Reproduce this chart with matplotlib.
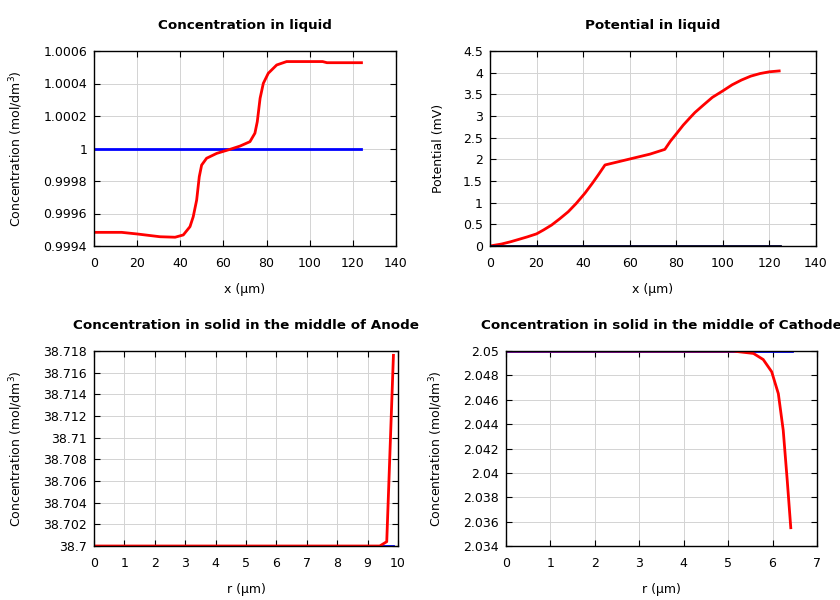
import numpy as np
import matplotlib
matplotlib.use('Agg')
import matplotlib.pyplot as plt
from matplotlib.ticker import FuncFormatter

# 液相浓度
x_liq = [0, 12.8, 20, 30.6, 37.6, 41.4, 44.5, 46.0, 47.6, 48.8, 49.9, 52.2, 56.9, 63.1, 67.7,
         72.3, 74.6, 75.7, 77.0, 78.5, 80.8, 84.7, 89.3, 106, 108, 124]
c_liq = [0.999484, 0.999484, 0.999474, 0.999457, 0.999454, 0.999468, 0.999519, 0.999580,
         0.999683, 0.999826, 0.999898, 0.999940, 0.999970, 0.999995, 1.000015, 1.000042,
         1.000094, 1.000165, 1.000309, 1.000401, 1.000463, 1.000514, 1.000535, 1.000535,
         1.000528, 1.000528]
x_liq0 = [0, 124]
c_liq0 = [1.0, 1.0]

# 液相电势
x_pot = [0, 5, 9, 12.2, 16, 20, 23, 26.5, 30, 33.6, 37, 40.8, 44, 46.5, 49.4, 68.7, 75.1,
         77.5, 80.2, 83, 85.9, 88, 91.6, 95.5, 100, 104, 108, 112, 116, 120, 124.2]
phi = [0, 0.046, 0.10, 0.15, 0.21, 0.28, 0.37, 0.485, 0.63, 0.79, 0.98, 1.22, 1.45, 1.64, 1.87,
       2.12, 2.23, 2.42, 2.60, 2.79, 2.96, 3.08, 3.25, 3.43, 3.58, 3.72, 3.83, 3.92, 3.98, 4.02,
       4.04]
x_pot0 = [0, 124.5]
phi0 = [0, 0]

# 负极固相浓度
r_an = [0, 9.4, 9.63, 9.85]
c_an = [38.7, 38.7, 38.7004, 38.7176]
r_an0 = [0, 9.85]
c_an0 = [38.7, 38.7]

# 正极固相浓度
r_ca = [0, 5.12, 5.57, 5.79, 5.98, 6.13, 6.24, 6.33, 6.41]
c_ca = [2.05, 2.04999, 2.0498, 2.0493, 2.0483, 2.0465, 2.0435, 2.0394, 2.0355]
r_ca0 = [0, 6.43]
c_ca0 = [2.05, 2.05]

plt.rcParams['font.family'] = ['DejaVu Sans']
plt.rcParams['font.size'] = 9

fig = plt.figure(figsize=(8.4, 6.0), dpi=100)
ax1 = fig.add_axes([0.1119, 0.59, 0.3595, 0.325])
ax2 = fig.add_axes([0.5833, 0.59, 0.3881, 0.325])
ax3 = fig.add_axes([0.1119, 0.09, 0.3619, 0.325])
ax4 = fig.add_axes([0.6024, 0.09, 0.3702, 0.325])

fmt = FuncFormatter(lambda v, p: '%g' % round(v, 6))


def style(ax, title, xlabel, ylabel):
    ax.set_title(title, fontsize=9.7, fontweight='bold', pad=16)
    ax.set_xlabel(xlabel, fontsize=9, labelpad=9)
    ax.set_ylabel(ylabel, fontsize=9, labelpad=13)
    ax.grid(True, color='#d3d3d3', linewidth=0.7)
    ax.set_axisbelow(True)
    ax.tick_params(direction='in', top=True, right=True, length=4, labelsize=9)
    ax.tick_params(axis='x', pad=8)
    ax.tick_params(axis='y', pad=5)
    ax.yaxis.set_major_formatter(fmt)
    ax.xaxis.set_major_formatter(fmt)
    for s in ax.spines.values():
        s.set_linewidth(1.0)


ax1.plot(x_liq0, c_liq0, color='#0000ff', linewidth=2)
ax1.plot(x_liq, c_liq, color='#ff0000', linewidth=2)
ax1.set_xlim(0, 140)
ax1.set_ylim(0.9994, 1.0006)
ax1.set_xticks(np.arange(0, 141, 20))
ax1.set_yticks(np.linspace(0.9994, 1.0006, 7))
style(ax1, 'Concentration in liquid', 'x (μm)', 'Concentration (mol/dm$^3$)')

ax2.plot(x_pot, phi, color='#ff0000', linewidth=2)
ax2.plot(x_pot0, phi0, color='#000033', linewidth=2)
ax2.set_xlim(0, 140)
ax2.set_ylim(0, 4.5)
ax2.set_xticks(np.arange(0, 141, 20))
ax2.set_yticks(np.arange(0, 4.51, 0.5))
style(ax2, 'Potential in liquid', 'x (μm)', 'Potential (mV)')

ax3.plot(r_an0, c_an0, color='#0000ff', linewidth=2)
ax3.plot(r_an, c_an, color='#ff0000', linewidth=2)
ax3.set_xlim(0, 10)
ax3.set_ylim(38.7, 38.718)
ax3.set_xticks(np.arange(0, 11, 1))
ax3.set_yticks(np.linspace(38.7, 38.718, 10))
style(ax3, 'Concentration in solid in the middle of Anode', 'r (μm)', 'Concentration (mol/dm$^3$)')

ax4.plot(r_ca0, c_ca0, color='#0000ff', linewidth=2)
ax4.plot(r_ca, c_ca, color='#ff0000', linewidth=2)
ax4.set_xlim(0, 7)
ax4.set_ylim(2.034, 2.05)
ax4.set_xticks(np.arange(0, 8, 1))
ax4.set_yticks(np.linspace(2.034, 2.05, 9))
style(ax4, 'Concentration in solid in the middle of Cathode', 'r (μm)', 'Concentration (mol/dm$^3$)')

plt.savefig('out.png', dpi=100)
